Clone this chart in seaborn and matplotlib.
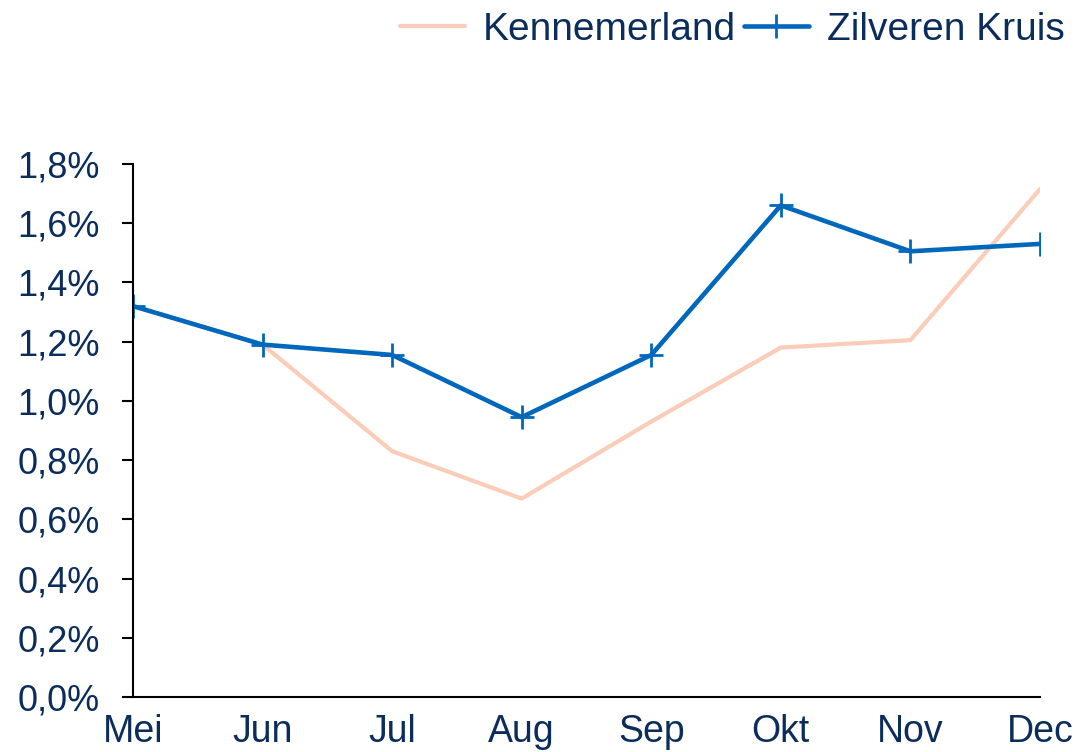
import matplotlib
matplotlib.use("Agg")
import matplotlib.pyplot as plt
import seaborn as sns
import pandas as pd
from matplotlib.ticker import FuncFormatter, MultipleLocator

maanden = ["Mei", "Jun", "Jul", "Aug", "Sep", "Okt", "Nov", "Dec"]
kennemerland = [1.32, 1.19, 0.83, 0.67, 0.93, 1.18, 1.205, 1.715]
zilveren_kruis = [1.32, 1.19, 1.155, 0.945, 1.155, 1.66, 1.505, 1.53]

NAVY = "#0B2D5B"
BLUE = "#0068BC"
PEACH = "#FBCDB8"

sns.set_theme(style="white")
plt.rcParams["font.family"] = ["Liberation Sans", "DejaVu Sans"]

df = pd.DataFrame({"maand": maanden, "pos": range(len(maanden)),
                   "Kennemerland": kennemerland, "Zilveren Kruis": zilveren_kruis})

fig = plt.figure(figsize=(10.76, 7.52), dpi=100)
ax = fig.add_axes([0.1236, 0.0731, 0.8429, 0.7089])

sns.lineplot(data=df, x="pos", y="Kennemerland", ax=ax, color=PEACH, lw=3,
             label="Kennemerland")
sns.lineplot(data=df, x="pos", y="Zilveren Kruis", ax=ax, color=BLUE, lw=3.3,
             marker="+", markersize=17, markeredgewidth=2, markeredgecolor=BLUE,
             label="Zilveren Kruis")

ax.set_xlim(0, len(maanden) - 1)
ax.set_ylim(0, 1.8)
ax.set_xticks(range(len(maanden)))
ax.set_xticklabels(maanden)
ax.yaxis.set_major_locator(MultipleLocator(0.2))
ax.yaxis.set_major_formatter(FuncFormatter(lambda v, _: f"{v:.1f}%".replace(".", ",")))
ax.set_xlabel("")
ax.set_ylabel("")

for side in ("top", "right"):
    ax.spines[side].set_visible(False)
for side in ("left", "bottom"):
    ax.spines[side].set_color("black")
    ax.spines[side].set_linewidth(1.5)

ax.tick_params(axis="y", which="major", direction="out", length=8, width=1.5,
               color="black", left=True, labelsize=26, labelcolor=NAVY, pad=16)
ax.tick_params(axis="x", which="major", length=0, labelsize=27, labelcolor=NAVY, pad=12)

leg = ax.legend(loc="upper right", bbox_to_anchor=(1.0, 1.0), bbox_transform=fig.transFigure,
                ncol=2, frameon=False, fontsize=28, handlelength=1.67, handletextpad=0.46,
                columnspacing=0.2, borderpad=0.1, borderaxespad=0.2)
for t in leg.get_texts():
    t.set_color(NAVY)

fig.savefig("out.png", dpi=100)
